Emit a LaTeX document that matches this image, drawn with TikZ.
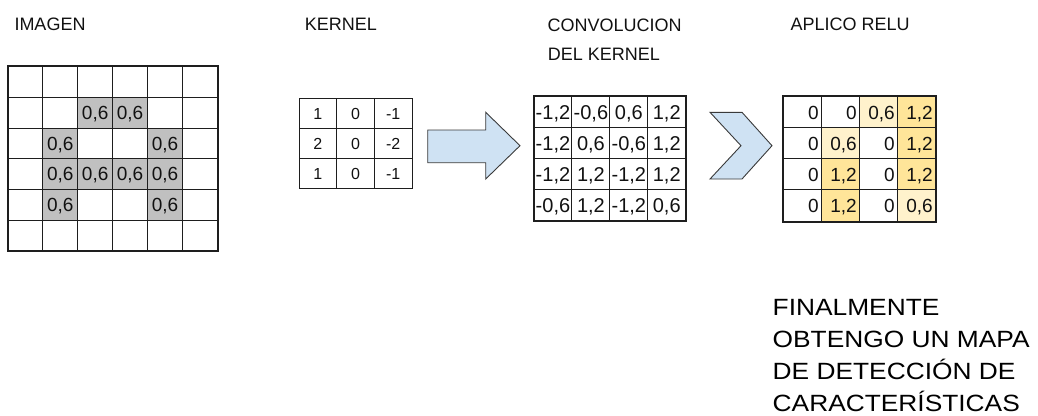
\documentclass[tikz,border=0pt]{standalone}
\usepackage{fontspec}
\setmainfont{Liberation Sans}
\newfontfamily\capfont[FakeStretch=1.12]{Liberation Sans}
\definecolor{gridline}{HTML}{1E1E1E}
\definecolor{cellgray}{HTML}{C0C0C0}
\definecolor{lightyel}{HTML}{FFF2CC}
\definecolor{darkyel}{HTML}{FFE599}
\definecolor{arrowblue}{HTML}{CFE2F3}
\definecolor{arrowline}{HTML}{3A3A3A}
\definecolor{txt}{HTML}{111111}
\tikzset{
  lbl/.style={anchor=base west, inner sep=0pt, text=txt, font=\fontsize{18}{20}\selectfont},
  caption/.style={anchor=base west, inner sep=0pt, text=black, font=\capfont\fontsize{23.5}{31.7}\selectfont},
  cellbase/.style={draw=gridline, line width=1pt, inner sep=0pt, text=txt, text depth=0pt},
  imgcell/.style={cellbase, minimum width=34.88pt, minimum height=30.67pt, text height=13.6pt, font=\fontsize{19}{19}\selectfont},
  kercell/.style={cellbase, minimum width=37.67pt, minimum height=30.23pt, text height=11.5pt, font=\fontsize{16}{16}\selectfont},
  convcell/.style={cellbase, minimum width=37.93pt, minimum height=31pt, text height=14.3pt, font=\fontsize{20}{20}\selectfont},
  relucell/.style={cellbase, minimum width=38pt, minimum height=31.08pt, text height=13.6pt, text width=33pt, align=right, inner xsep=2.5pt, font=\fontsize{19}{19}\selectfont},
  outer/.style={draw=gridline, line width=2pt},
  bigarrow/.style={draw=arrowline, line width=0.9pt, fill=arrowblue, line join=miter},
}
\begin{document}
\begin{tikzpicture}[x=1pt,y=-1pt]
\useasboundingbox (0,0) rectangle (1038,415);

% titles
\node[lbl] (t-img) at (14.3,30.5) {IMAGEN};
\node[lbl] (t-ker) at (304.6,30) {KERNEL};
\node[lbl] (t-conv1) at (547.3,31) {CONVOLUCION};
\node[lbl] (t-conv2) at (547.6,60) {DEL KERNEL};
\node[lbl] (t-relu) at (790.5,30) {APLICO RELU};

% IMAGEN grid
\foreach \r in {0,...,5}{
  \foreach \c in {0,...,5}{
    \node[imgcell] (img-\r-\c) at ({8+34.88*(\c+0.5)},{66.7+30.67*(\r+0.5)}) {};
  }
}
\foreach \r/\c in {1/2,1/3,2/1,2/4,3/1,3/2,3/3,3/4,4/1,4/4}{
  \node[imgcell, fill=cellgray] (imgv-\r-\c) at ({8+34.88*(\c+0.5)},{66.7+30.67*(\r+0.5)}) {0,6};
}
\draw[outer] (img-0-0.north west) rectangle (img-5-5.south east);

% KERNEL grid
\foreach \v [count=\i from 0] in {1,0,-1,2,0,-2,1,0,-1}{
  \pgfmathtruncatemacro{\r}{int(\i/3)}
  \pgfmathtruncatemacro{\c}{mod(\i,3)}
  \node[kercell] (ker-\r-\c) at ({299+37.67*(\c+0.5)},{98.3+30.23*(\r+0.5)}) {\v};
}

% arrow
\draw[bigarrow] (427.7,130) -- (485.7,130) -- (485.7,112.3) -- (520,145.7)
  -- (485.7,179) -- (485.7,162.7) -- (427.7,162.7) -- cycle;

% CONVOLUCION grid
\foreach \v [count=\i from 0] in {-1{,}2,-0{,}6,0{,}6,1{,}2,
                                 -1{,}2,0{,}6,-0{,}6,1{,}2,
                                 -1{,}2,1{,}2,-1{,}2,1{,}2,
                                 -0{,}6,1{,}2,-1{,}2,0{,}6}{
  \pgfmathtruncatemacro{\r}{int(\i/4)}
  \pgfmathtruncatemacro{\c}{mod(\i,4)}
  \node[convcell] (conv-\r-\c) at ({534+37.93*(\c+0.5)},{96.7+31*(\r+0.5)}) {\v};
}
\draw[outer] (conv-0-0.north west) rectangle (conv-3-3.south east);

% chevron
\draw[bigarrow] (710,112.3) -- (742,112.3) -- (772,145.7) -- (742,179)
  -- (710,179) -- (741,145.7) -- cycle;

% RELU grid
\foreach \v/\f [count=\i from 0] in {0/white,0/white,0{,}6/lightyel,1{,}2/darkyel,
                                     0/white,0{,}6/lightyel,0/white,1{,}2/darkyel,
                                     0/white,1{,}2/darkyel,0/white,1{,}2/darkyel,
                                     0/white,1{,}2/darkyel,0/white,0{,}6/lightyel}{
  \pgfmathtruncatemacro{\r}{int(\i/4)}
  \pgfmathtruncatemacro{\c}{mod(\i,4)}
  \node[relucell, fill=\f] (relu-\r-\c) at ({783.3+38*(\c+0.5)},{96.7+31.08*(\r+0.5)}) {\v};
}
\draw[outer] (relu-0-0.north west) rectangle (relu-3-3.south east);

% caption
\node[caption] (cap1) at (772.5,315.7) {FINALMENTE};
\node[caption] (cap2) at (772.5,347.8) {OBTENGO UN MAPA};
\node[caption] (cap3) at (772.5,379.8) {DE DETECCIÓN DE};
\node[caption] (cap4) at (772.5,411.5) {CARACTERÍSTICAS};
\end{tikzpicture}
\end{document}
